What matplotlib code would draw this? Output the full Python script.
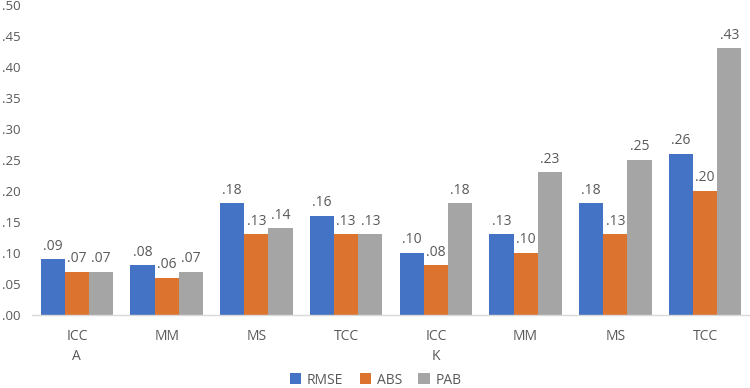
import matplotlib.pyplot as plt
import numpy as np

categories = ["ICC\nA", "MM", "MS", "TCC", "ICC\nK", "MM", "MS", "TCC"]
series_names = ["RMSE", "ABS", "PAB"]
rmse = [0.09, 0.08, 0.18, 0.16, 0.10, 0.13, 0.18, 0.26]
abs_ = [0.07, 0.06, 0.13, 0.13, 0.08, 0.10, 0.13, 0.20]
pab = [0.07, 0.07, 0.14, 0.13, 0.18, 0.23, 0.25, 0.43]
yticks = [0.00, 0.05, 0.10, 0.15, 0.20, 0.25, 0.30, 0.35, 0.40, 0.45, 0.50]

colors = ["#4472C4", "#DC7430", "#A5A5A5"]
txt = "#595959"
plt.rcParams['font.family'] = ['Open Sans', 'DejaVu Sans']

fig = plt.figure(figsize=(7.5, 3.88), dpi=100)
ax = fig.add_axes([32/750, (388-315)/388, 1 - 32/750, 310/388])

x = np.arange(len(categories))
w = 0.27
for i, (vals, name) in enumerate(zip([rmse, abs_, pab], series_names)):
    bars = ax.bar(x + (i - 1) * w, vals, w, color=colors[i], label=name)
    for b, v in zip(bars, vals):
        ax.text(b.get_x() + b.get_width() / 2, v + 0.009, ("%.2f" % v)[1:],
                ha='center', va='bottom', fontsize=10, color=txt)

ax.set_xlim(-0.5, len(categories) - 0.5)
ax.set_ylim(0, 0.5)
ax.set_yticks(yticks)
ax.set_yticklabels([("%.2f" % t)[1:] for t in yticks])
ax.set_xticks(x)
ax.set_xticklabels(categories, linespacing=1.45)
ax.tick_params(axis='y', length=0, labelsize=9.5, colors=txt, pad=8)
ax.tick_params(axis='x', length=0, labelsize=10, colors=txt, pad=10)
for s in ['top', 'right', 'left']:
    ax.spines[s].set_visible(False)
ax.spines['bottom'].set_color('#D9D9D9')
ax.spines['bottom'].set_linewidth(1)

leg = ax.legend(loc='center', bbox_to_anchor=(0.5 - 16/750, -65/310), ncol=3, frameon=False,
                fontsize=10, handlelength=0.8, handleheight=0.8, handletextpad=0.4,
                columnspacing=1.2, labelcolor=txt)

fig.savefig("out.png", dpi=100)
